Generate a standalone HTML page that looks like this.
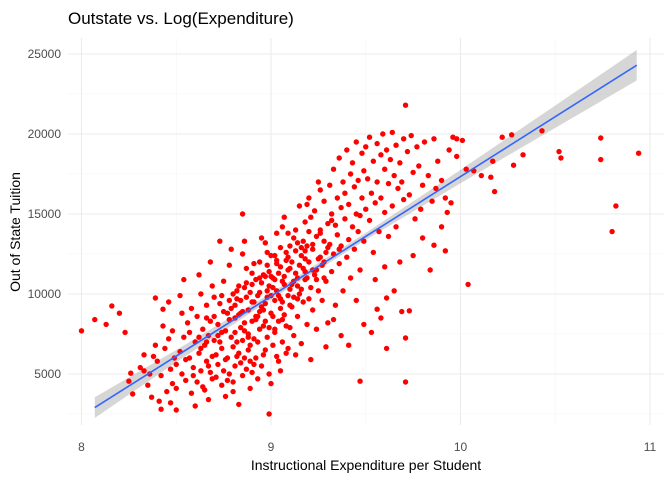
<!DOCTYPE html>
<html><head><meta charset="utf-8"><style>
body{margin:0;background:#fff;}
svg text{font-family:"Liberation Sans",Arial,sans-serif;}
</style></head><body>
<svg id="chart" width="672" height="480" xmlns="http://www.w3.org/2000/svg">
<text x="68" y="24" font-size="17" fill="#000">Outstate vs. Log(Expenditure)</text>
<text x="366" y="470" font-size="14" text-anchor="middle" fill="#000">Instructional Expenditure per Student</text>
<text transform="translate(20,232) rotate(-90)" font-size="14" text-anchor="middle" fill="#000">Out of State Tuition</text>
<g id="grid"></g><g id="band"></g><g id="pts"></g><g id="fit"></g><g id="ticks"></g>
</svg>
<script>
const xTicks=[8,9,10,11];
const yTicks=[5000,10000,15000,20000,25000];
const fitX=[8.07,10.93];
const fitY=[2900,24300];
const bandX=[8.07,8.5,9,9.5,10,10.5,10.93];
const bandHalf=[650,380,200,220,420,700,950];
const ptX=[8.0,8.07,8.16,8.2,8.23,8.13,8.25,8.26,8.31,8.33,8.27,8.37,8.42,8.5,8.54,8.52,8.39,8.43,8.99,9.56,9.71,9.71,9.47,9.61,9.61,9.58,9.73,9.86,10.04,9.93,10.03,10.18,10.22,10.27,10.33,10.43,10.52,10.53,10.74,10.74,10.82,10.8,10.94,9.71,9.98,10.01,10.07,10.16,10.11,10.17,10.28,
8.35,8.38,8.4,8.42,8.44,8.45,8.46,8.47,8.48,8.49,8.36,8.41,8.43,8.46,8.48,8.5,8.5,8.39,8.33,8.47,
8.52,8.53,8.54,8.55,8.56,8.57,8.58,8.58,8.59,8.6,8.61,8.61,8.62,8.63,8.63,8.64,8.65,8.65,8.66,8.66,8.67,8.67,8.68,8.68,8.69,8.69,8.7,8.7,8.55,8.6,8.62,8.64,8.66,8.68,8.53,8.57,8.59,8.63,8.67,8.69,
8.71,8.71,8.72,8.72,8.73,8.73,8.74,8.74,8.75,8.75,8.76,8.76,8.77,8.77,8.78,8.78,8.79,8.79,8.8,8.8,8.81,8.81,8.82,8.82,8.83,8.83,8.84,8.84,8.85,8.85,8.86,8.86,8.87,8.87,8.88,8.88,8.89,8.89,8.9,8.9,8.72,8.74,8.76,8.78,8.8,8.82,8.84,8.86,8.88,8.9,8.73,8.77,8.81,8.83,8.85,8.87,8.89,8.79,8.75,8.8,8.85,
8.91,8.91,8.92,8.92,8.93,8.93,8.94,8.94,8.95,8.95,8.96,8.96,8.97,8.97,8.98,8.98,8.99,8.99,9,9,9.01,9.01,9.02,9.02,9.03,9.03,9.04,9.04,9.05,9.05,9.06,9.06,9.07,9.07,9.08,9.08,9.09,9.09,9.1,9.1,8.92,8.94,8.96,8.98,9,9.02,9.04,9.06,9.08,9.1,8.93,8.97,9.01,9.05,9.09,8.95,8.99,9.03,9.07,8.91,9,9.05,8.97,9.03,9.09,
9.11,9.11,9.12,9.12,9.13,9.13,9.14,9.14,9.15,9.15,9.16,9.16,9.17,9.17,9.18,9.18,9.19,9.19,9.2,9.2,9.21,9.21,9.22,9.22,9.23,9.23,9.24,9.24,9.25,9.25,9.26,9.26,9.27,9.27,9.28,9.28,9.29,9.29,9.3,9.3,9.12,9.14,9.16,9.18,9.2,9.22,9.24,9.26,9.28,9.3,9.13,9.19,9.25,9.29,9.21,
9.31,9.31,9.32,9.32,9.33,9.33,9.34,9.34,9.35,9.35,9.36,9.36,9.37,9.37,9.38,9.38,9.39,9.39,9.4,9.4,9.41,9.41,9.42,9.42,9.43,9.43,9.44,9.44,9.45,9.45,9.46,9.46,9.47,9.47,9.48,9.48,9.49,9.49,9.5,9.5,9.33,9.37,9.41,9.45,9.49,
9.51,9.52,9.52,9.53,9.54,9.54,9.55,9.56,9.56,9.57,9.58,9.58,9.59,9.6,9.6,9.61,9.62,9.62,9.63,9.64,9.64,9.65,9.66,9.66,9.67,9.68,9.68,9.69,9.7,9.7,9.55,9.6,9.65,9.69,9.53,
9.72,9.73,9.74,9.75,9.76,9.77,9.78,9.8,9.81,9.83,9.85,9.86,9.88,9.9,9.92,9.94,9.96,9.98,9.75,9.8,9.84,9.79,9.87,9.9,9.92,9.95,
8.81,8.83,8.85,8.87,8.89,8.91,8.93,8.95,8.97,8.99,9.01,9.03,9.05,9.07,9.09,9.11,9.13,9.15,9.17,9.19,8.82,8.84,8.86,8.88,8.9,8.92,8.94,8.96,8.98,9.0,9.02,9.04,9.06,9.08,9.1,9.12,9.14,9.16,9.18,9.2,8.86,8.9,8.94,8.98,9.02,9.06,9.1,9.14,9.18,9.22,8.7,8.74,8.78,8.62,8.66,9.24,9.26,9.28,9.32,9.36];
const ptY=[7700,8400,9250,8800,7600,8100,4550,5050,5400,5200,3750,3550,2800,2750,10900,9900,9750,9050,2500,9050,7250,4500,4550,6600,9750,8500,8950,13050,10600,15100,17800,16400,19800,19950,18700,20200,18900,18500,19750,18400,15500,13900,18800,21800,19700,19600,17700,17300,17400,18300,18050,
4300,6100,5800,4900,6600,3900,7200,5300,4400,6000,5000,3300,8000,9500,7700,5600,4100,6800,6200,3200,
6400,5000,7300,4600,8200,6000,3800,9100,5400,7000,4500,8600,6300,5200,10000,7800,4000,6800,5800,9300,3400,7400,5100,8300,6100,4700,9800,7100,5900,3000,11200,4200,7000,12000,8800,7600,4900,6600,5500,10500,
6200,4800,8100,5600,9400,7000,4300,6600,10800,5200,7700,3600,8800,6000,5000,11800,7300,9100,4500,6700,8500,5500,10200,7000,3100,6300,9600,7900,4900,12500,8200,6000,10700,5300,7500,9000,4100,6800,11300,8300,7400,9900,5900,8400,10000,6100,5700,13300,6500,5100,13300,4600,7600,8700,7100,9800,5800,12800,8900,3900,15000,
9500,7200,6000,10900,8600,4700,12000,7800,9200,5500,11200,8000,6500,13200,9800,7300,10500,5000,8800,12400,6800,11000,9600,7600,13800,10200,8300,5800,11700,9100,7000,14200,10600,8700,12600,6300,9900,11500,7900,13000,8400,10100,6200,11800,9900,10900,11300,9500,8000,10300,7000,9400,8600,12900,6600,13500,7900,6100,14800,5600,4400,5200,11100,11900,13800,
9200,12000,10800,7400,14000,11300,8600,13200,10000,15500,12400,6900,11600,9500,14500,10900,8100,13000,12000,16000,10400,14800,9000,12800,11200,15200,13600,7800,12200,10200,16500,14000,11800,9600,13300,15800,12600,10800,14400,8200,9800,11000,10300,12700,9700,11500,10900,12300,11000,12900,6200,15600,17000,6700,5900,
13100,16800,11400,15000,17800,12500,14300,9300,16000,13700,18500,11900,15400,13000,17000,10200,14700,16300,12300,19000,15600,13400,17500,11000,14200,18200,16700,12800,15000,19500,13900,17100,14900,11500,18800,16000,13300,17700,15300,19200,8400,7400,6800,9600,8100,
17200,14600,19800,16300,18300,12600,15700,19400,17000,13900,18700,16000,20000,15100,17800,19000,13600,16900,18400,15500,20100,17400,14200,19300,16600,18200,12000,17000,19700,15900,10900,11700,10200,8900,7600,
18900,16200,19900,17600,14700,19200,18000,16800,19500,17400,15800,19700,18300,17100,16000,19000,19800,18600,12400,13500,11500,15300,16600,14200,12700,15700,
9300,10500,8900,11600,10100,11900,9900,10700,8300,11400,10400,12100,9700,11100,12300,10600,12700,11800,13300,11000,9700,8800,10400,7300,9500,8600,11000,9000,10200,11100,7800,9900,10800,12100,11600,13500,10500,12900,11400,13900,7700,10600,8900,12600,12400,8400,9300,9700,12200,13100,8600,7600,9600,7300,8500,11500,13800,12000,14600,12800];

const NS='http://www.w3.org/2000/svg';
const L=68,R=664,T=38,B=425;
const sx=v=>81.5+(v-8)*189.5;
const sy=v=>374-(v-5000)*0.016;
function mk(tag,attrs,parent){const e=document.createElementNS(NS,tag);for(const k in attrs)e.setAttribute(k,attrs[k]);document.getElementById(parent).appendChild(e);return e;}
for(let v=7.5;v<=11.01;v+=0.5){const major=Math.abs(v-Math.round(v))<1e-6;const x=sx(v);if(x<L||x>R)continue;
const g=mk('line',{x1:x,x2:x,y1:T,y2:B,stroke:major?'#ebebeb':'#f5f5f5','stroke-width':major?1.1:0.6},'grid');

}
for(let v=2500;v<=27500;v+=2500){const major=v%5000===0;const y=sy(v);if(y<T||y>B)continue;
const g=mk('line',{x1:L,x2:R,y1:y,y2:y,stroke:major?'#ebebeb':'#f5f5f5','stroke-width':major?1.1:0.6},'grid');

}
xTicks.forEach(t=>{const e=mk('text',{x:sx(t),y:451,'font-size':12,'text-anchor':'middle',fill:'#4d4d4d'},'ticks');e.textContent=t;

});
yTicks.forEach(t=>{const e=mk('text',{x:61,y:sy(t)+4,'font-size':12,'text-anchor':'end',fill:'#4d4d4d'},'ticks');e.textContent=t;

});
for(let i=0;i<ptX.length;i++){const c=mk('circle',{cx:sx(ptX[i]),cy:sy(ptY[i]),r:2.7,fill:'#ff0000'},'pts');

}
const fy=x=>fitY[0]+(x-fitX[0])*(fitY[1]-fitY[0])/(fitX[1]-fitX[0]);
let up='',lo='';
bandX.forEach((x,i)=>{up+=(i?'L':'M')+sx(x)+','+sy(fy(x)+bandHalf[i]);});
for(let i=bandX.length-1;i>=0;i--){lo+='L'+sx(bandX[i])+','+sy(fy(bandX[i])-bandHalf[i]);}
const b=mk('path',{d:up+lo+'Z',fill:'#999999','fill-opacity':0.4},'band');


const ln=mk('line',{x1:sx(fitX[0]),y1:sy(fitY[0]),x2:sx(fitX[1]),y2:sy(fitY[1]),stroke:'#3366ff','stroke-width':1.6},'fit');


</script>
</body></html>
